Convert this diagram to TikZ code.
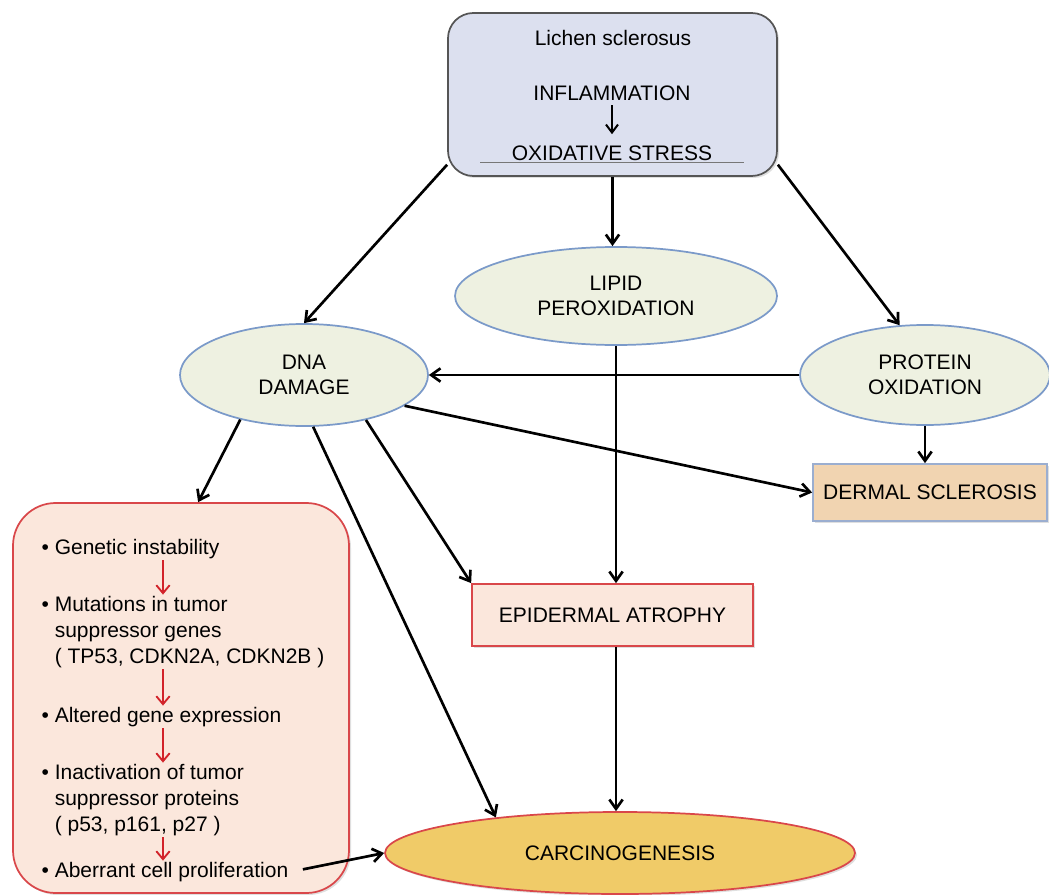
\documentclass[tikz,border=0pt]{standalone}
\usepackage{fontspec}
\setmainfont{Liberation Sans}
\usetikzlibrary{arrows.meta,positioning,calc,shapes.geometric,shadows}

\definecolor{boxfill}{HTML}{DCE0EF}
\definecolor{boxline}{HTML}{555555}
\definecolor{ovalfill}{HTML}{EEF1E1}
\definecolor{ovalline}{HTML}{7B9AC9}
\definecolor{dermfill}{HTML}{F1D4B1}
\definecolor{dermline}{HTML}{9BAED0}
\definecolor{pinkfill}{HTML}{FBE7DC}
\definecolor{redline}{HTML}{D9474A}
\definecolor{carcfill}{HTML}{F0CB68}
\definecolor{redarrow}{HTML}{D2232A}

\newcommand{\bl}{\textbullet\ }
\newcommand{\ind}{\hphantom{\textbullet}\ }

\begin{document}
\begin{tikzpicture}[x=0.75pt,y=-0.75pt,font=\fontsize{15.75}{19.5}\selectfont,
  >={Straight Barb[length=7pt,width=10pt]},
  oval/.style={ellipse,draw=ovalline,fill=ovalfill,line width=1.3pt,inner sep=1pt,align=center,font=\fontsize{15.75}{18.75}\selectfont},
  shade/.style={drop shadow={shadow xshift=1.5pt,shadow yshift=-1.5pt,opacity=.25}},
  flow/.style={->,line width=2pt},
  redflow/.style={-{Straight Barb[length=6pt,width=10pt]},draw=redarrow,line width=1.4pt},
  item/.style={anchor=west,align=left,inner sep=1pt}]
\useasboundingbox (0,0) rectangle (1049,895);
\clip (0,0) rectangle (1049,895);

% source box
\node[draw=boxline,fill=boxfill,rounded corners=19pt,line width=1.3pt,minimum width=246.75pt,minimum height=122.25pt,shade] (lichen) at (612.5,94.5) {};
\node (ls) at (613,38) {Lichen sclerosus};
\node (infl) at (612,93) {INFLAMMATION};
\node (oxs) at (612,153) {OXIDATIVE STRESS};
\draw[->,line width=1.5pt,shorten >=5pt,>={Straight Barb[length=6pt,width=9pt]}] (infl) -- (oxs);
\draw[boxline!80,line width=1.3pt] ([xshift=-20pt,yshift=2pt]oxs.south west) -- ([xshift=20pt,yshift=2pt]oxs.south east);

% damage types
\node[oval,minimum width=186pt,minimum height=76.5pt] (dna) at (304,375) {DNA\\DAMAGE};
\node[oval,minimum width=241.5pt,minimum height=73.5pt] (lipid) at (616,296) {LIPID\\PEROXIDATION};
\node[oval,minimum width=187.5pt,minimum height=75pt] (protein) at (925,375) {PROTEIN\\OXIDATION};

% outcomes
\node[draw=dermline,fill=dermfill,line width=1.3pt,minimum width=175.5pt,minimum height=42.75pt,shade] (dermal) at (930,492.5) {DERMAL SCLEROSIS};
\node[draw=redline,fill=pinkfill,line width=1.3pt,minimum width=210.75pt,minimum height=46.5pt,shade] (epid) at (612.5,615) {EPIDERMAL ATROPHY};
\node[ellipse,draw=redline,fill=carcfill,line width=1.3pt,minimum width=352.5pt,minimum height=61.5pt,shade] (carc) at (620,853) {CARCINOGENESIS};

% genetic cascade
\node[draw=redline,fill=pinkfill,line width=1.3pt,rounded corners=32pt,minimum width=252pt,minimum height=292.5pt,shade] (cascade) at (181,698) {};
\node[item] (g1) at (40,549) {\bl Genetic instability};
\node[item] (g2) at (40,632) {\bl Mutations in tumor\\\ind suppressor genes\\\ind( TP53, CDKN2A, CDKN2B )};
\node[item] (g3) at (40,717) {\bl Altered gene expression};
\node[item] (g4) at (40,800) {\bl Inactivation of tumor\\\ind suppressor proteins\\\ind( p53, p161, p27 )};
\node[item] (g5) at (40,872) {\bl Aberrant cell proliferation};
\coordinate (ax) at (163,0);
\draw[redflow] (g1.south -| ax) -- (g2.north -| ax);
\draw[redflow] (g2.south -| ax) -- (g3.north -| ax);
\draw[redflow] (g3.south -| ax) -- (g4.north -| ax);
\draw[redflow] (g4.south -| ax) -- (g5.north -| ax);

% connectors
\draw[flow] (lichen.203) -- (dna.north);
\draw[flow] (lichen.south) -- (lichen.south |- lipid.north);
\draw[flow] (lichen.-23.5) -- (protein.117);
\draw[flow] (protein.west) -- (dna.east);
\draw[flow] (lipid.south) -- (lipid.south |- epid.north);
\draw[flow] (protein.south) -- (protein.south |- dermal.north);
\draw[flow] (dna.343) -- (dermal.west);
\draw[flow] (dna.215.6) -- (cascade.85);
\draw[flow] (dna.280) -- (carc.164);
\draw[flow] (dna.324) -- (epid.north west);
\draw[flow] (epid.south -| lipid.south) -- (carc.north -| lipid.south);
\draw[flow,shorten <=10pt] (g5.east) -- (carc.west);
\end{tikzpicture}
\end{document}
